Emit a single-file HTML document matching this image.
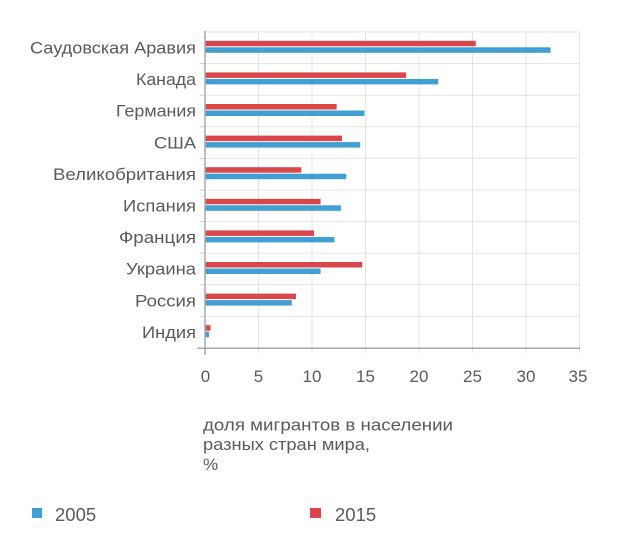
<!DOCTYPE html>
<html><head><meta charset="utf-8"><style>
html,body{margin:0;padding:0;background:#fff;}
svg{display:block;}
text{font-family:"Liberation Sans","DejaVu Sans",sans-serif;fill:#5a5a5a;}
</style></head><body>
<svg width="620" height="551" viewBox="0 0 620 551" xmlns="http://www.w3.org/2000/svg">
<g stroke="#e4e4e4" stroke-width="1">
<line x1="205" y1="32" x2="580" y2="32"/>
<line x1="205" y1="63.6" x2="580" y2="63.6"/>
<line x1="205" y1="95.2" x2="580" y2="95.2"/>
<line x1="205" y1="126.8" x2="580" y2="126.8"/>
<line x1="205" y1="158.4" x2="580" y2="158.4"/>
<line x1="205" y1="190" x2="580" y2="190"/>
<line x1="205" y1="221.6" x2="580" y2="221.6"/>
<line x1="205" y1="253.2" x2="580" y2="253.2"/>
<line x1="205" y1="284.8" x2="580" y2="284.8"/>
<line x1="205" y1="316.4" x2="580" y2="316.4"/>
<line x1="258.5" y1="32" x2="258.5" y2="353"/>
<line x1="312" y1="32" x2="312" y2="353"/>
<line x1="365.5" y1="32" x2="365.5" y2="353"/>
<line x1="419" y1="32" x2="419" y2="353"/>
<line x1="472.5" y1="32" x2="472.5" y2="353"/>
<line x1="526" y1="32" x2="526" y2="353"/>
<line x1="579.5" y1="32" x2="579.5" y2="353"/>
</g>
<g fill="#d9474b">
<rect x="205" y="40.8" width="270.7" height="5.5"/>
<rect x="205" y="72.4" width="201.2" height="5.5"/>
<rect x="205" y="104" width="131.6" height="5.5"/>
<rect x="205" y="135.6" width="137" height="5.5"/>
<rect x="205" y="167.2" width="96.3" height="5.5"/>
<rect x="205" y="198.8" width="115.6" height="5.5"/>
<rect x="205" y="230.4" width="109.1" height="5.5"/>
<rect x="205" y="262" width="157.3" height="5.5"/>
<rect x="205" y="293.6" width="91" height="5.5"/>
<rect x="205" y="325.2" width="5.5" height="5.5"/>
</g>
<g fill="#419fd4">
<rect x="205" y="47.3" width="345.6" height="5.5"/>
<rect x="205" y="78.9" width="233.3" height="5.5"/>
<rect x="205" y="110.5" width="159.4" height="5.5"/>
<rect x="205" y="142.1" width="155.2" height="5.5"/>
<rect x="205" y="173.7" width="141.2" height="5.5"/>
<rect x="205" y="205.3" width="135.9" height="5.5"/>
<rect x="205" y="236.9" width="129.5" height="5.5"/>
<rect x="205" y="268.5" width="115.6" height="5.5"/>
<rect x="205" y="300.1" width="86.7" height="5.5"/>
<rect x="205" y="331.7" width="4" height="5.5"/>
</g>
<g stroke="#a8a8a8" stroke-width="1.5">
<line x1="205" y1="31" x2="205" y2="355"/>
<line x1="197" y1="348.3" x2="580" y2="348.3"/>
</g>
<g stroke="#c8c8c8" stroke-width="1">
<line x1="200" y1="63.6" x2="205" y2="63.6"/>
<line x1="200" y1="95.2" x2="205" y2="95.2"/>
<line x1="200" y1="126.8" x2="205" y2="126.8"/>
<line x1="200" y1="158.4" x2="205" y2="158.4"/>
<line x1="200" y1="190" x2="205" y2="190"/>
<line x1="200" y1="221.6" x2="205" y2="221.6"/>
<line x1="200" y1="253.2" x2="205" y2="253.2"/>
<line x1="200" y1="284.8" x2="205" y2="284.8"/>
<line x1="200" y1="316.4" x2="205" y2="316.4"/>
</g>
<g font-size="17" text-anchor="end">
<text x="196" y="53.5" textLength="166" lengthAdjust="spacingAndGlyphs">Саудовская Аравия</text>
<text x="196" y="85.1" textLength="60" lengthAdjust="spacingAndGlyphs">Канада</text>
<text x="196" y="116.7" textLength="80" lengthAdjust="spacingAndGlyphs">Германия</text>
<text x="196" y="148.3" textLength="42" lengthAdjust="spacingAndGlyphs">США</text>
<text x="196" y="179.9" textLength="143" lengthAdjust="spacingAndGlyphs">Великобритания</text>
<text x="196" y="211.5" textLength="73" lengthAdjust="spacingAndGlyphs">Испания</text>
<text x="196" y="243.1" textLength="77" lengthAdjust="spacingAndGlyphs">Франция</text>
<text x="196" y="274.7" textLength="70" lengthAdjust="spacingAndGlyphs">Украина</text>
<text x="196" y="306.3" textLength="61" lengthAdjust="spacingAndGlyphs">Россия</text>
<text x="196" y="337.9" textLength="54" lengthAdjust="spacingAndGlyphs">Индия</text>
</g>
<g font-size="17" text-anchor="middle">
<text x="205.5" y="382">0</text>
<text x="258.5" y="382">5</text>
<text x="312" y="382">10</text>
<text x="365.5" y="382">15</text>
<text x="419" y="382">20</text>
<text x="472.5" y="382">25</text>
<text x="526" y="382">30</text>
<text x="578" y="382">35</text>
</g>
<g font-size="17">
<text x="203" y="430.5" textLength="250" lengthAdjust="spacingAndGlyphs">доля мигрантов в населении</text>
<text x="203" y="450" textLength="167" lengthAdjust="spacingAndGlyphs">разных стран мира,</text>
<text x="203" y="470">%</text>
</g>
<rect x="32" y="508" width="10" height="10" fill="#419fd4"/>
<text x="55" y="521" font-size="18.5">2005</text>
<rect x="310" y="508" width="11" height="10" fill="#d9474b"/>
<text x="335" y="521" font-size="18.5">2015</text>
</svg>
</body></html>
